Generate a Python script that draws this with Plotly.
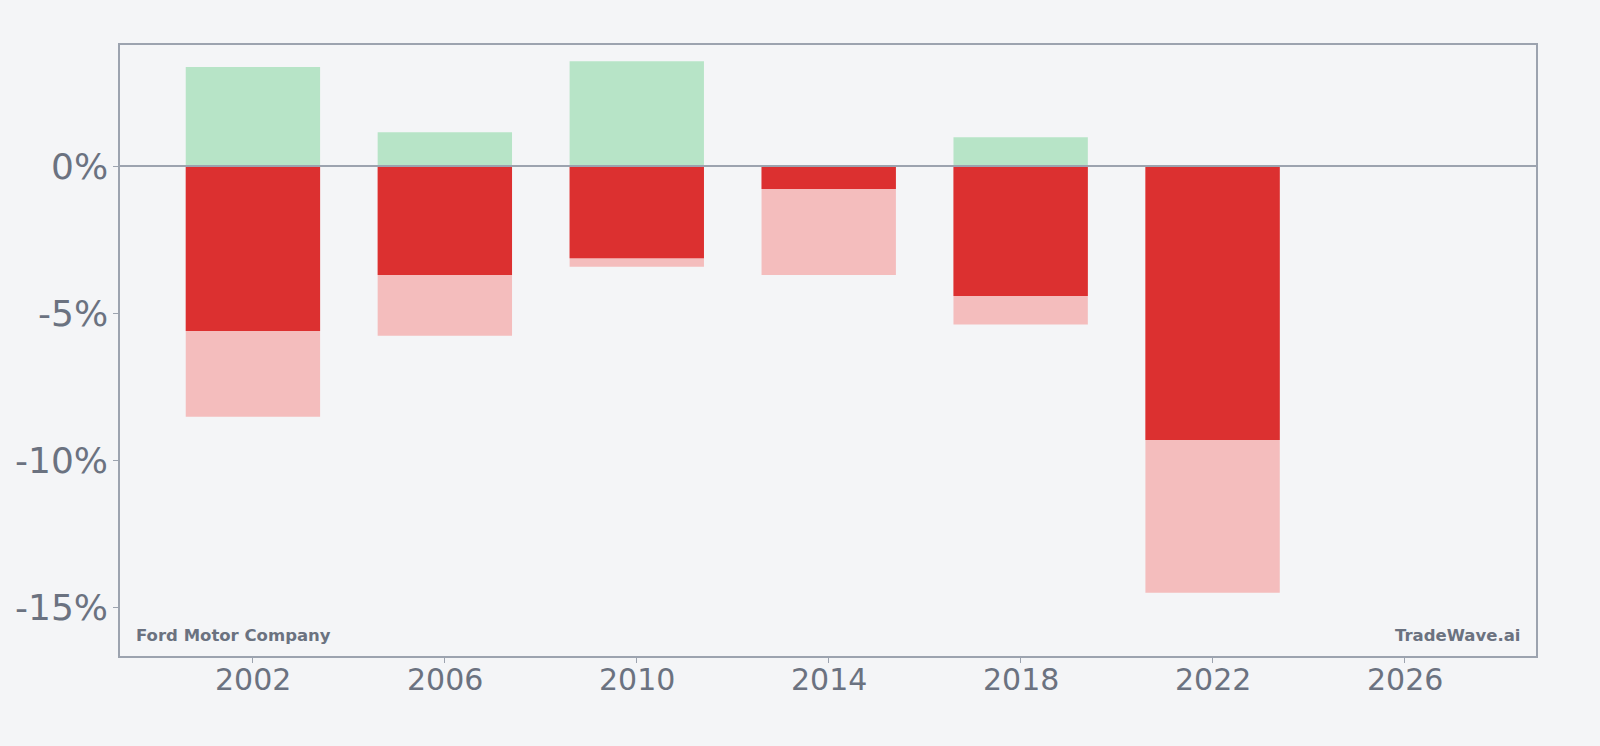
import plotly.graph_objects as go

years = [2002, 2006, 2010, 2014, 2018, 2022]
max_gain = [3.36, 1.15, 3.56, 0.0, 0.98, 0.0]
drawdown = [-5.60, -3.70, -3.13, -0.78, -4.41, -9.30]
max_loss = [-8.51, -5.76, -3.42, -3.70, -5.38, -14.48]
y_ticks = [0, -5, -10, -15]
y_tick_labels = ["0%", "-5%", "-10%", "-15%"]
x_ticks = [2002, 2006, 2010, 2014, 2018, 2022, 2026]
x_tick_labels = [str(v) for v in x_ticks]

TXT = "#6b7280"
BORDER = "#9ca3af"
BG = "#f4f5f7"
W = 2.8

fig = go.Figure()
fig.add_trace(go.Bar(x=years, y=max_gain, width=W, marker=dict(color="#b7e4c7", line=dict(width=0)), name="gain"))
fig.add_trace(go.Bar(x=years, y=max_loss, width=W, marker=dict(color="#f4bdbd", line=dict(width=0)), name="max loss"))
fig.add_trace(go.Bar(x=years, y=drawdown, width=W, marker=dict(color="#dc3030", line=dict(width=0)), name="loss"))

fig.add_shape(type="line", xref="paper", x0=0, x1=1, yref="y", y0=0, y1=0,
              line=dict(color=BORDER, width=2), layer="above")

annotations = [
    dict(text="<b>Ford Motor Company</b>", xref="paper", yref="paper", x=0.01, y=0.015,
         xanchor="left", yanchor="bottom", showarrow=False, font=dict(size=16.5, color=TXT)),
    dict(text="<b>TradeWave.ai</b>", xref="paper", yref="paper", x=0.99, y=0.015,
         xanchor="right", yanchor="bottom", showarrow=False, font=dict(size=16.5, color=TXT)),
]
for xv, lab in zip(x_ticks, x_tick_labels):
    annotations.append(dict(text=lab, xref="x", yref="paper", x=xv, y=0, yshift=-23,
                            xanchor="center", yanchor="middle", showarrow=False,
                            font=dict(size=30, color=TXT)))
for yv, lab in zip(y_ticks, y_tick_labels):
    annotations.append(dict(text=lab, xref="paper", yref="y", x=0, y=yv, xshift=-10,
                            xanchor="right", yanchor="middle", showarrow=False,
                            font=dict(size=36, color=TXT)))

fig.update_layout(
    width=1600, height=746,
    barmode="overlay",
    showlegend=False,
    paper_bgcolor=BG, plot_bgcolor=BG,
    margin=dict(l=120, r=64, t=45, b=90),
    font=dict(family="DejaVu Sans", color=TXT),
    xaxis=dict(range=[1999.23, 2028.74], tickvals=x_ticks, showticklabels=False,
               showgrid=False, zeroline=False, showline=True, linecolor=BORDER, linewidth=2,
               mirror=True, ticks="outside", ticklen=5, tickcolor=BORDER, tickwidth=1),
    yaxis=dict(range=[-16.63, 4.11], tickvals=y_ticks, showticklabels=False,
               showgrid=False, zeroline=False, showline=True, linecolor=BORDER, linewidth=2,
               mirror=True, ticks="outside", ticklen=5, tickcolor=BORDER, tickwidth=1),
    annotations=annotations,
)

fig.write_html("out.html")
